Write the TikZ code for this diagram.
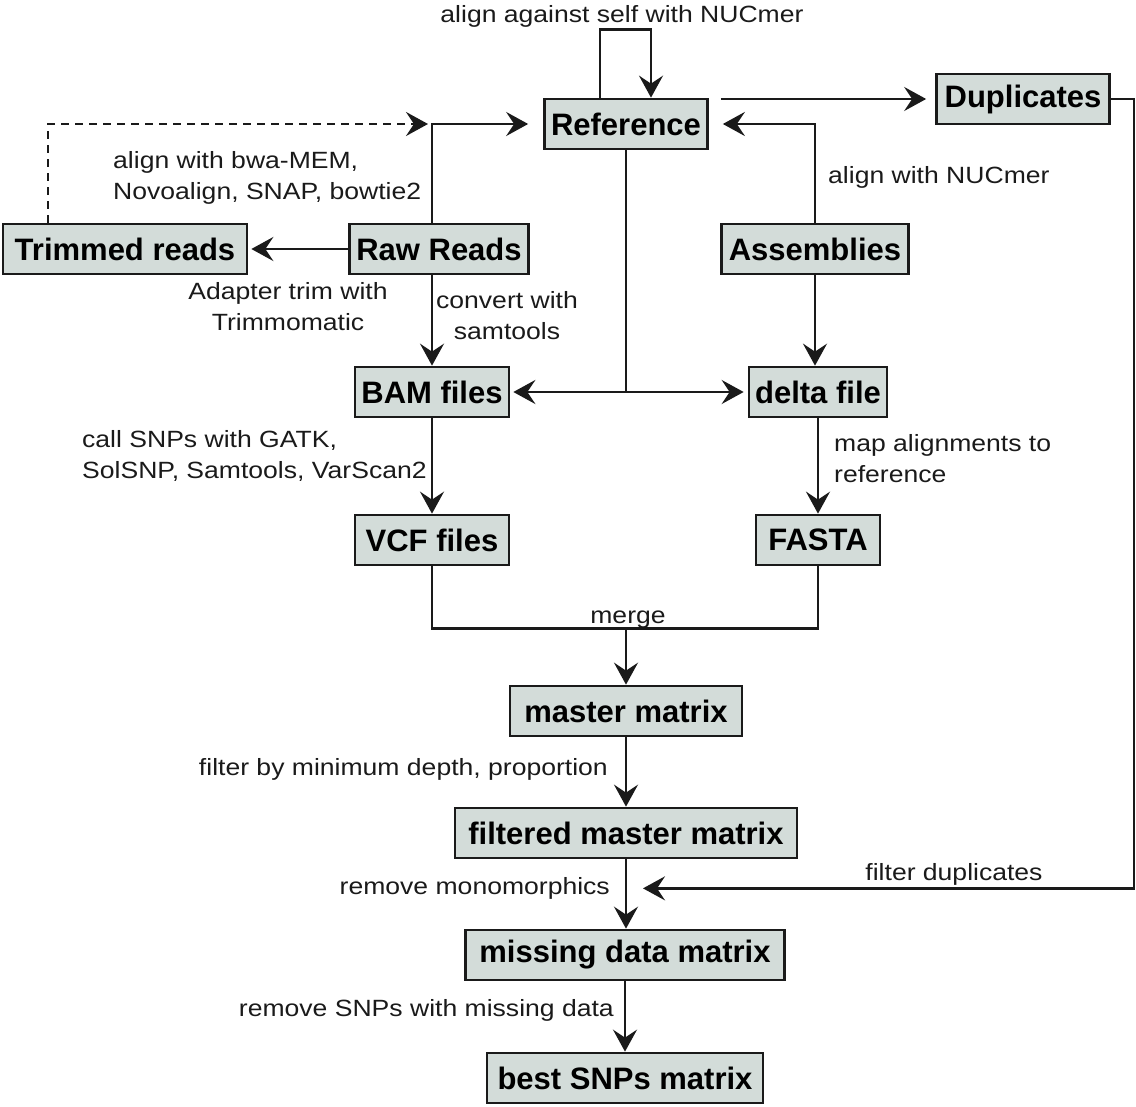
\documentclass[tikz,border=0pt]{standalone}
\usepackage{fontspec}
\setmainfont{Liberation Sans}
\newfontfamily\notefont[FakeStretch=1.13]{Liberation Sans}
\usetikzlibrary{arrows.meta, positioning, calc}
\definecolor{cBox}{HTML}{D3DCD9}
\definecolor{cLine}{HTML}{1A1A1A}
\tikzset{
  font=\notefont\fontsize{23.5}{31}\selectfont,
  >={Stealth[length=22pt, width=24pt, inset=8pt]},
  filebox/.style={draw=cLine, fill=cBox, line width=2.7pt, minimum height=50pt,
    inner sep=0pt, font=\rmfamily\fontsize{31}{34}\selectfont\bfseries},
  link/.style={line width=2.7pt, draw=cLine},
  flow/.style={link, ->},
  twoflow/.style={link, <->},
  dashflow/.style={flow, dash pattern=on 8pt off 6pt},
  notelabel/.style={inner sep=0pt, text=cLine, yshift=-2.5pt},
}

\begin{document}
\begin{tikzpicture}[x=1pt, y=-1pt]
  \useasboundingbox (0,0) rectangle (1136,1107);

  % ----------------------------------------------------------------
  % Boxes
  % ----------------------------------------------------------------
  \node[filebox, minimum width=163pt] (ref)   at (626,124)  {Reference};
  \node[filebox, minimum width=173pt] (dup)   at (1023,99)  {Duplicates};
  \node[filebox, minimum width=244pt] (trim)  at (125,249)  {Trimmed reads};
  \node[filebox, minimum width=179pt] (raw)   at (439,249)  {Raw Reads};
  \node[filebox, minimum width=187pt] (asm)   at (815,249)  {Assemblies};
  \node[filebox, minimum width=154pt] (bam)   at (432,392)  {BAM files};
  \node[filebox, minimum width=138pt] (delta) at (818,392)  {delta file};
  \node[filebox, minimum width=154pt] (vcf)   at (432,540)  {VCF files};
  \node[filebox, minimum width=124pt] (fasta) at (818,540)  {FASTA};
  \node[filebox, minimum width=232pt] (master) at (626,711) {master matrix};
  \node[filebox, minimum width=342pt] (filt)  at (626,833)  {filtered master matrix};
  \node[filebox, minimum width=319pt] (miss)  at (625,955)  {missing data matrix};
  \node[filebox, minimum width=276pt] (best)  at (625,1078) {best SNPs matrix};

  % ----------------------------------------------------------------
  % Reference and reads
  % ----------------------------------------------------------------
  \draw[flow] ([xshift=-26pt]ref.north) -- ++(0,-68) -| ([xshift=25pt]ref.north);
  \node[notelabel] (selflbl) at (622,14) {align against self with NUCmer};

  \draw[flow] ([xshift=12pt]ref.east |- dup.west) -- ([xshift=-9pt]dup.west);

  \coordinate (jn) at (bam.north |- ref.west);
  \draw[flow] (bam.north |- raw.north) -- (jn) -- ([xshift=-15pt]ref.west);
  \draw[dashflow] ([xshift=-77pt]trim.north) |- ([xshift=-4pt]jn);
  \node[notelabel, align=left, anchor=west] (alnlbl) at (113,175.5)
    {align with bwa-MEM,\\Novoalign, SNAP, bowtie2};

  \draw[flow] (raw.west) -- ([xshift=3pt]trim.east);
  \node[notelabel, align=center] (trimlbl) at (288,304.5)
    {Adapter trim with\\Trimmomatic};

  \draw[flow] (bam.north |- raw.south) -- (bam.north);
  \node[notelabel, align=center] (convlbl) at (507,313) {convert with\\samtools};

  % ----------------------------------------------------------------
  % Assemblies
  % ----------------------------------------------------------------
  \draw[flow] (asm.north) |- ([xshift=14pt]ref.east);
  \node[notelabel, anchor=west] (nuclbl) at (828,175) {align with NUCmer};
  \draw[flow] (asm.south) -- (asm.south |- delta.north);

  \coordinate (hub) at (ref.south |- bam.east);
  \draw[link] (ref.south) -- (hub);
  \draw[twoflow] ([xshift=3pt]bam.east) -- ([xshift=-4pt]delta.west);

  % ----------------------------------------------------------------
  % Variant calls and merge
  % ----------------------------------------------------------------
  \draw[flow] (bam) -- (vcf);
  \node[notelabel, align=left, anchor=west] (calllbl) at (82,453.5)
    {call SNPs with GATK,\\SolSNP, Samtools, VarScan2};

  \draw[flow] (delta.south) -- (delta.south |- fasta.north);
  \node[notelabel, align=left, anchor=west] (maplbl) at (834,456.5)
    {map alignments to\\reference};

  \coordinate (mg) at ([yshift=56pt]master.north);
  \draw[link] (vcf.south) |- (mg) -| (fasta.south);
  \draw[flow] (mg) -- (master.north);
  \node[notelabel] (mergelbl) at (628,617) {merge};

  % ----------------------------------------------------------------
  % Filtering chain
  % ----------------------------------------------------------------
  \draw[flow] (master) -- (filt);
  \node[notelabel, anchor=east] (depthlbl) at (608,767) {filter by minimum depth, proportion};

  \draw[flow] (filt.south) -- (filt.south |- miss.north);
  \node[notelabel, anchor=east] (monolbl) at (610,886) {remove monomorphics};

  \coordinate (dupin) at ([xshift=17pt, yshift=-29pt]filt.south);
  \draw[flow] (dup.east) -- ++(23,0) |- (dupin);
  \node[notelabel] (duplbl) at (954,872) {filter duplicates};

  \draw[flow] (miss) -- (best);
  \node[notelabel, anchor=east] (misslbl) at (614,1008) {remove SNPs with missing data};

\end{tikzpicture}
\end{document}
